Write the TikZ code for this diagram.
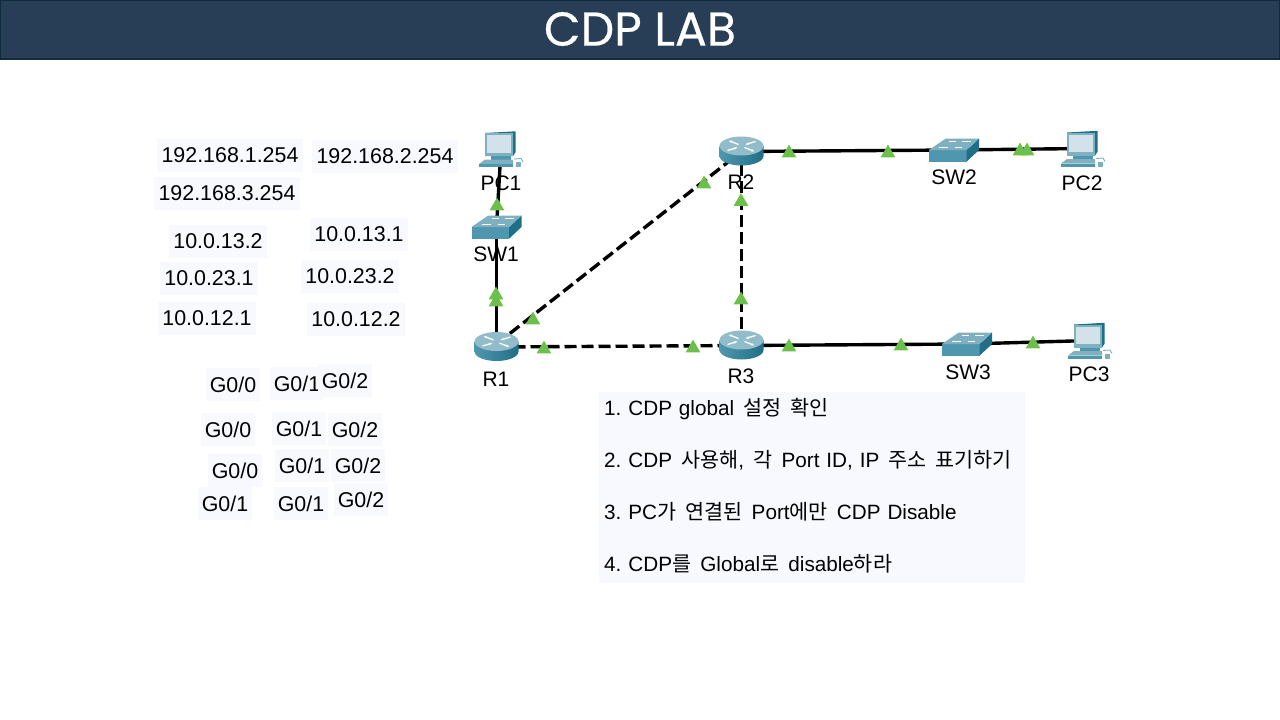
\documentclass[tikz,border=0pt]{standalone}
\usepackage{xcolor}
\usepackage{fontspec}
\setmainfont{Liberation Sans}
\newfontfamily\krfont{Noto Sans CJK KR}
\newfontfamily\titlefont[FakeBold=0.5]{Poppins}
\usetikzlibrary{shapes.geometric,arrows.meta}
\definecolor{headerblue}{HTML}{283E56}
\definecolor{headerline}{HTML}{0E2C3C}
\definecolor{notefill}{HTML}{F8F9FF}
\definecolor{portgreen}{HTML}{6CBF4B}
\definecolor{iconlight}{HTML}{7FB0C0}
\definecolor{iconmid}{HTML}{4F97AE}
\definecolor{icondark}{HTML}{1F6F87}
\definecolor{iconscreen}{HTML}{D3E2EA}
\newcommand{\kgap}{\hspace{9.2pt}}

\tikzset{
  routernode/.style={minimum width=44pt, minimum height=30pt, inner sep=0pt},
  switchnode/.style={minimum width=50pt, minimum height=23pt, inner sep=0pt},
  pcnode/.style={minimum width=44pt, minimum height=36pt, inner sep=0pt},
  cablelink/.style={line width=3.4pt, black},
  cabledash/.style={cablelink, dash pattern=on 12pt off 5pt},
  portmark/.style={regular polygon, regular polygon sides=3, minimum size=17pt,
    inner sep=0pt, fill=portgreen, yshift=-2.1pt},
  devlabel/.style={inner sep=0pt, font=\fontsize{21}{25}\selectfont},
  ipbox/.style={fill=notefill, minimum width=146pt, minimum height=33pt, inner sep=0pt,
    font=\fontsize{21.4}{25}\selectfont},
  shortbox/.style={ipbox, minimum width=98pt},
  portbox/.style={ipbox, minimum width=54pt},
  routericon/.pic={
    \draw[draw=none, left color=iconmid, middle color=white!85!iconlight, right color=icondark]
      (-22,-5.5) -- (-22,4.5) arc[start angle=180, end angle=0, x radius=22, y radius=9.5]
      -- (22,-5.5) -- cycle;
    \fill[iconlight!85!white] (0,-5.5) ellipse[x radius=22, y radius=9.5];
    \draw[white, line width=1.3pt, -{Stealth[length=3.5pt]}] (-14,-1) -- (-4,-4);
    \draw[white, line width=1.3pt, -{Stealth[length=3.5pt]}] (14,-10) -- (4,-7);
    \draw[white, line width=1.3pt, -{Stealth[length=3.5pt]}] (-3,-7) -- (-13,-11);
    \draw[white, line width=1.3pt, -{Stealth[length=3.5pt]}] (3,-4) -- (13,0);
  },
  switchicon/.pic={
    \fill[iconmid] (-25,0) -- (12.7,0) -- (12.7,11.5) -- (-25,11.5) -- cycle;
    \fill[icondark] (12.7,0) -- (25,-11.5) -- (25,0) -- (12.7,11.5) -- cycle;
    \fill[iconlight] (-25,0) -- (-8.3,-11.5) -- (25,-11.5) -- (12.7,0) -- cycle;
    \draw[white, line width=0.9pt] (-5,-8.5) -- (2,-8.5) (8,-8.5) -- (17,-8.5);
    \draw[white, line width=0.9pt] (-15,-2.5) -- (-6,-2.5) (1,-2.5) -- (8,-2.5);
  },
  pcicon/.pic={
    \fill[icondark] (-16,-16) -- (14.7,-17.7) -- (14.7,3) -- (12,7) -- (-16,7) -- cycle;
    \fill[iconlight] (-16,-16) -- (12,-16) -- (12,7) -- (-16,7) -- cycle;
    \fill[iconscreen] (-14,-14) rectangle (9.5,3.5);
    \fill[iconmid] (-10,7) rectangle (10,10.5);
    \fill[iconlight] (-16,10.5) -- (12,10.5) -- (12,15) -- (-22,15) -- cycle;
    \fill[iconmid] (-22,15) -- (12,15) -- (12,18) -- (-22,18) -- cycle;
    \fill[iconlight] (14.5,13) rectangle (20,18);
    \draw[iconlight, line width=0.9pt] (13,10) -- (20,9.5) -- (22,13);
  },
}

\begin{document}
\begin{tikzpicture}[x=1pt, y=-1pt]
  \useasboundingbox (0,0) rectangle (1280,720);

  % header
  \node[fill=headerblue, draw=headerline, line width=1.5pt, minimum width=1280pt,
        minimum height=59pt, inner sep=0pt] (header) at (640,29.5) {};
  \node[text=white, inner sep=0pt, font=\titlefont\fontsize{47.5}{50}\selectfont] (title) at (640,29) {CDP LAB};

  % devices
  \node[pcnode] (PC1) at (501,149) {};
  \node[switchnode] (SW1) at (496.5,227) {};
  \node[routernode] (R1) at (496.5,347) {};
  \node[routernode] (R2) at (741.5,151.5) {};
  \node[routernode] (R3) at (741.5,345.5) {};
  \node[switchnode] (SW2) at (954,150) {};
  \node[switchnode] (SW3) at (967,344) {};
  \node[pcnode] (PC2) at (1083,148.5) {};
  \node[pcnode] (PC3) at (1090,340.5) {};

  % cables
  \draw[cablelink] (R1.center) -- (SW1.center);
  \draw[cablelink] (SW1.center) -- (PC1.center);
  \draw[cabledash] ([yshift=3pt]R1.center) -- (R2.center);
  \draw[cabledash] (R1.center) -- (R3.center);
  \draw[cabledash] (R3.center) -- (R2.center);
  \draw[cablelink] (R2.center) -- (SW2.center);
  \draw[cablelink] (SW2.center) -- (PC2.center);
  \draw[cablelink] (R3.center) -- (SW3.center);
  \draw[cablelink] (SW3.center) -- (PC3.center);

  % icons
  \pic at (PC1) {pcicon};
  \pic at (SW1) {switchicon};
  \pic at (R1) {routericon};
  \pic at (R2) {routericon};
  \pic at (R3) {routericon};
  \pic at (SW2) {switchicon};
  \pic at (SW3) {switchicon};
  \pic at (PC2) {pcicon};
  \pic at (PC3) {pcicon};

  % port lights
  \node[portmark] (pm1) at (497,204) {};
  \node[portmark] (pm2) at (496,293) {};
  \node[portmark] (pm3) at (496,300) {};
  \node[portmark] (pm4) at (533,318) {};
  \node[portmark] (pm5) at (544,347) {};
  \node[portmark] (pm6) at (693,346) {};
  \node[portmark] (pm7) at (704,182) {};
  \node[portmark] (pm8) at (741,199.5) {};
  \node[portmark] (pm9) at (741,298) {};
  \node[portmark] (pm10) at (789,151) {};
  \node[portmark] (pm11) at (888,151) {};
  \node[portmark] (pm12) at (1020,149) {};
  \node[portmark] (pm13) at (1027,149) {};
  \node[portmark] (pm14) at (789,345) {};
  \node[portmark] (pm15) at (901,344) {};
  \node[portmark] (pm16) at (1033,342) {};

  % device names
  \node[devlabel] (PC1name) at (501,183) {PC1};
  \node[devlabel] (SW1name) at (496,254) {SW1};
  \node[devlabel] (R1name) at (496,379) {R1};
  \node[devlabel] (R2name) at (741,182) {R2};
  \node[devlabel] (R3name) at (741,376) {R3};
  \node[devlabel] (SW2name) at (954,177) {SW2};
  \node[devlabel] (SW3name) at (968,372) {SW3};
  \node[devlabel] (PC2name) at (1082,183) {PC2};
  \node[devlabel] (PC3name) at (1089,374) {PC3};

  % addresses
  \node[ipbox] (gw1) at (230,155.5) {192.168.1.254};
  \node[ipbox] (gw2) at (385,156.5) {192.168.2.254};
  \node[ipbox] (gw3) at (227,193.5) {192.168.3.254};
  \node[shortbox] (ip132) at (218,241.5) {10.0.13.2};
  \node[shortbox] (ip131) at (359,234.5) {10.0.13.1};
  \node[shortbox] (ip231) at (209,278.5) {10.0.23.1};
  \node[shortbox] (ip232) at (350,276.5) {10.0.23.2};
  \node[shortbox] (ip121) at (207,318.5) {10.0.12.1};
  \node[shortbox] (ip122) at (356,319.5) {10.0.12.2};

  % ports
  \node[portbox] (p11) at (233,384.5) {G0/0};
  \node[portbox] (p12) at (297,383.5) {G0/1};
  \node[portbox] (p13) at (345,380.5) {G0/2};
  \node[portbox] (p21) at (228,429.5) {G0/0};
  \node[portbox] (p22) at (299,428.5) {G0/1};
  \node[portbox] (p23) at (355,429.5) {G0/2};
  \node[portbox] (p31) at (235,470.5) {G0/0};
  \node[portbox] (p32) at (302,465.5) {G0/1};
  \node[portbox] (p33) at (358,465.5) {G0/2};
  \node[portbox] (p41) at (225,503.5) {G0/1};
  \node[portbox] (p42) at (301,503.5) {G0/1};
  \node[portbox] (p43) at (361,499.5) {G0/2};

  % task list
  \node[fill=notefill, minimum width=426pt, minimum height=191pt, inner sep=0pt] (taskbox) at (812,487.5) {};
  \node[anchor=west, inner sep=0pt, text width=420pt, align=left,
        font=\frenchspacing\fontsize{20.7}{52}\selectfont] (tasks) at (604,486) {%
      1. CDP global\kgap{\krfont 설정}\kgap{\krfont 확인}\\
      2. CDP\kgap{\krfont 사용해},\kgap{\krfont 각}\kgap Port ID, IP\kgap{\krfont 주소}\kgap{\krfont 표기하기}\\
      3. PC{\krfont 가}\kgap{\krfont 연결된}\kgap Port{\krfont 에만}\kgap CDP Disable\\
      4. CDP{\krfont 를}\kgap Global{\krfont 로}\kgap disable{\krfont 하라}};
\end{tikzpicture}
\end{document}
